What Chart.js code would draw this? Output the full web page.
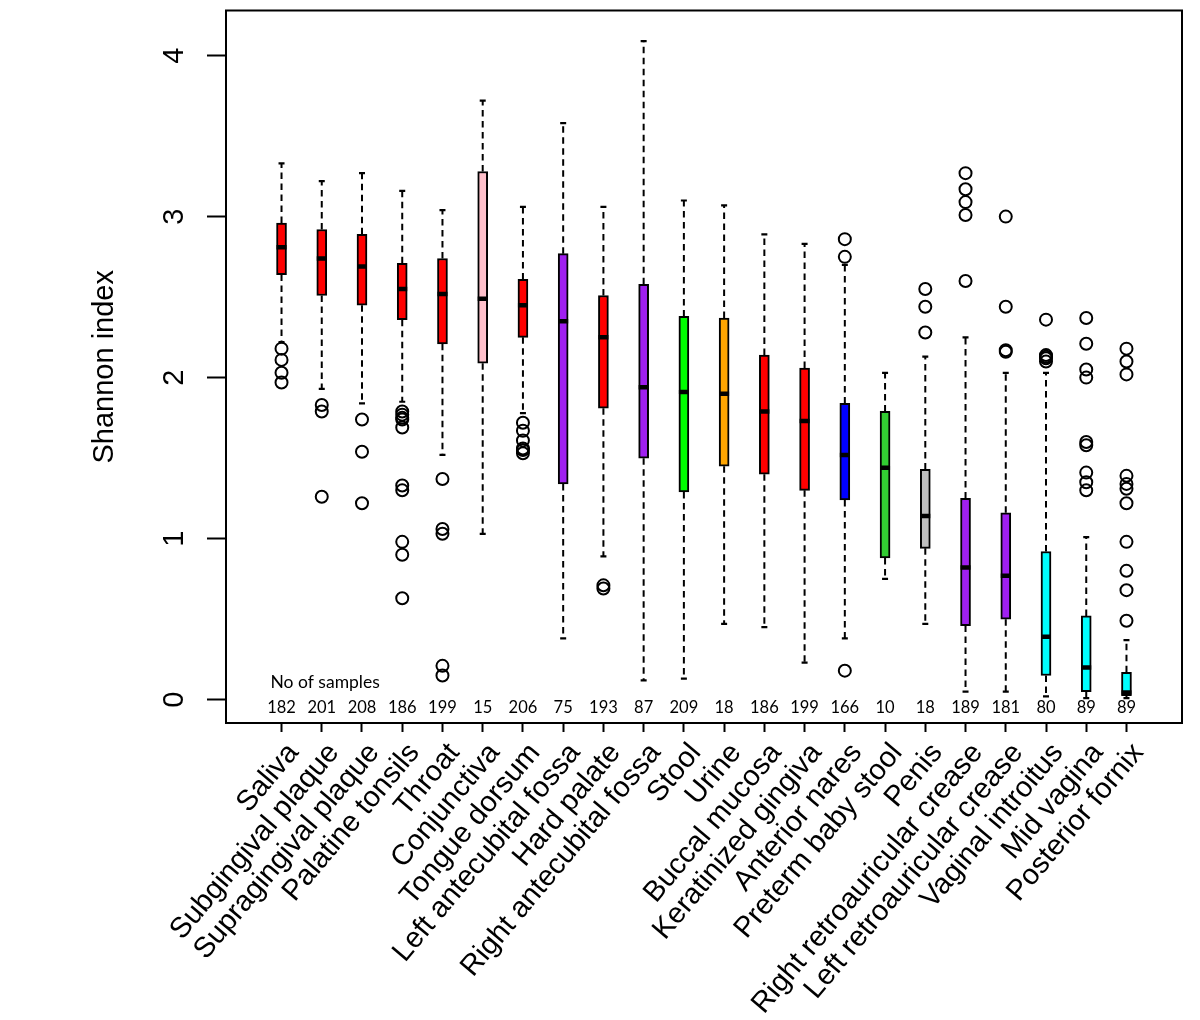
<!DOCTYPE html>
<html>
<head>
<meta charset="utf-8">
<script src="https://cdn.jsdelivr.net/npm/chart.js@4.4.0/dist/chart.umd.min.js"></script>
<style>
    html, body { margin: 0; padding: 0; background: #fff; }
    canvas { display: block; }
</style>
</head>
<body>
<canvas id="shannonChart" width="1200" height="1020"></canvas>
<script>
// Shannon diversity per body site, drawn as boxplots.
const categories = [
    'Saliva', 'Subgingival plaque', 'Supragingival plaque', 'Palatine tonsils', 'Throat',
    'Conjunctiva', 'Tongue dorsum', 'Left antecubital fossa', 'Hard palate',
    'Right antecubital fossa', 'Stool', 'Urine', 'Buccal mucosa', 'Keratinized gingiva',
    'Anterior nares', 'Preterm baby stool', 'Penis', 'Right retroauricular crease',
    'Left retroauricular crease', 'Vaginal introitus', 'Mid vagina', 'Posterior fornix',
];
const sampleCounts = [182, 201, 208, 186, 199, 15, 206, 75, 193, 87, 209, 18, 186, 199, 166, 10, 18, 189, 181, 80, 89, 89];

const lowerWhisker = [2.22, 1.93, 1.84, 1.85, 1.52, 1.03, 1.78, 0.38, 0.89, 0.12, 0.13, 0.47, 0.45, 0.23, 0.38, 0.75, 0.47, 0.05, 0.05, 0.02, 0.01, 0.01];
const lowerQuartile = [2.64, 2.51, 2.45, 2.36, 2.21, 2.09, 2.25, 1.34, 1.81, 1.50, 1.29, 1.45, 1.40, 1.30, 1.24, 0.88, 0.94, 0.46, 0.50, 0.15, 0.05, 0.025];
const medians = [2.81, 2.74, 2.69, 2.55, 2.52, 2.49, 2.45, 2.35, 2.25, 1.94, 1.91, 1.90, 1.79, 1.73, 1.52, 1.44, 1.14, 0.82, 0.77, 0.39, 0.20, 0.045];
const upperQuartile = [2.96, 2.92, 2.89, 2.71, 2.74, 3.28, 2.61, 2.77, 2.51, 2.58, 2.38, 2.37, 2.14, 2.06, 1.84, 1.79, 1.43, 1.25, 1.16, 0.92, 0.52, 0.17];
const upperWhisker = [3.33, 3.22, 3.27, 3.16, 3.04, 3.72, 3.06, 3.58, 3.06, 4.09, 3.10, 3.07, 2.89, 2.83, 2.70, 2.03, 2.13, 2.25, 2.03, 2.03, 1.01, 0.37];

const outliers = [
    [2.18, 2.11, 2.03, 1.97],
    [1.83, 1.79, 1.26],
    [1.74, 1.54, 1.22],
    [1.79, 1.77, 1.75, 1.74, 1.69, 1.33, 1.30, 0.98, 0.90, 0.63],
    [1.37, 1.06, 1.03, 0.21, 0.15],
    [],
    [1.72, 1.67, 1.61, 1.56, 1.55, 1.53],
    [],
    [0.71, 0.69],
    [],
    [],
    [],
    [],
    [],
    [2.86, 2.75, 0.18],
    [],
    [2.55, 2.44, 2.28],
    [3.27, 3.17, 3.09, 3.01, 2.60],
    [3.00, 2.44, 2.17, 2.16],
    [2.36, 2.14, 2.13, 2.12, 2.10],
    [2.37, 2.21, 2.05, 2.00, 1.60, 1.58, 1.41, 1.35, 1.30],
    [2.18, 2.10, 2.02, 1.39, 1.34, 1.31, 1.22, 0.98, 0.80, 0.68, 0.49],
];

const boxColors = [
    '#ff0000', '#ff0000', '#ff0000', '#ff0000', '#ff0000', '#ffc0cb', '#ff0000',
    '#a020f0', '#ff0000', '#a020f0', '#00ff00', '#ffa500', '#ff0000', '#ff0000',
    '#0000ff', '#32cd32', '#bebebe', '#a020f0', '#a020f0', '#00ffff', '#00ffff', '#00ffff',
];

const yTickValues = [0, 1, 2, 3, 4];
const yTitle = 'Shannon index';
const samplesTitle = 'No of samples';

const labelFont = '29px "Liberation Sans", Arial, sans-serif';
const countFont = '16.5px Lato, "Open Sans", sans-serif';
const samplesTitleFont = '17.5px Lato, "Open Sans", sans-serif';

const boxData = categories.map((name, i) => ({ x: i + 1, y: [lowerQuartile[i], upperQuartile[i]] }));
const outlierData = [];
outliers.forEach((values, i) => {
    values.forEach(v => outlierData.push({ x: i + 1, y: v }));
});

const boxplotParts = {
    id: 'boxplotParts',
    beforeDatasetsDraw(chart) {
        const { ctx, scales: { x, y } } = chart;
        const boxes = chart.getDatasetMeta(0).data;
        ctx.save();
        ctx.strokeStyle = '#000';
        categories.forEach((name, i) => {
            const px = x.getPixelForValue(i + 1);
            const capHalf = boxes[i].width / 4 + 0.5;
            ctx.lineWidth = 2;
            ctx.setLineDash([6.5, 4.5]);
            ctx.beginPath();
            ctx.moveTo(px, y.getPixelForValue(upperQuartile[i]));
            ctx.lineTo(px, y.getPixelForValue(upperWhisker[i]));
            ctx.moveTo(px, y.getPixelForValue(lowerQuartile[i]));
            ctx.lineTo(px, y.getPixelForValue(lowerWhisker[i]));
            ctx.stroke();
            ctx.setLineDash([]);
            ctx.lineWidth = 2.2;
            ctx.beginPath();
            [upperWhisker[i], lowerWhisker[i]].forEach(v => {
                const py = y.getPixelForValue(v);
                ctx.moveTo(px - capHalf, py);
                ctx.lineTo(px + capHalf, py);
            });
            ctx.stroke();
        });
        ctx.restore();
    },
    afterDatasetsDraw(chart) {
        const { ctx, scales: { y } } = chart;
        const boxes = chart.getDatasetMeta(0).data;
        ctx.save();
        ctx.strokeStyle = '#000';
        ctx.lineWidth = 4.5;
        ctx.beginPath();
        boxes.forEach((bar, i) => {
            const py = y.getPixelForValue(medians[i]);
            ctx.moveTo(bar.x - bar.width / 2, py);
            ctx.lineTo(bar.x + bar.width / 2, py);
        });
        ctx.stroke();
        ctx.restore();
    },
    afterDraw(chart) {
        const { ctx, chartArea: area, scales: { x, y } } = chart;
        ctx.save();

        // frame
        ctx.strokeStyle = '#000';
        ctx.lineWidth = 2;
        ctx.strokeRect(area.left, area.top, area.right - area.left, area.bottom - area.top);

        ctx.fillStyle = '#000';
        ctx.font = labelFont;

        // y tick labels, rotated like R's default
        ctx.textAlign = 'center';
        ctx.textBaseline = 'alphabetic';
        yTickValues.forEach(v => {
            ctx.save();
            ctx.translate(183, y.getPixelForValue(v));
            ctx.rotate(-Math.PI / 2);
            ctx.fillText(String(v), 0, 0);
            ctx.restore();
        });

        ctx.save();
        ctx.translate(113, (area.top + area.bottom) / 2);
        ctx.rotate(-Math.PI / 2);
        ctx.fillText(yTitle, 0, 0);
        ctx.restore();

        // slanted category labels
        ctx.textAlign = 'right';
        categories.forEach((name, i) => {
            ctx.save();
            ctx.translate(x.getPixelForValue(i + 1) + 18, 753);
            ctx.rotate(-50 * Math.PI / 180);
            ctx.fillText(name, 0, 0);
            ctx.restore();
        });

        // sample counts along the bottom
        ctx.font = samplesTitleFont;
        ctx.textAlign = 'left';
        ctx.fillText(samplesTitle, x.getPixelForValue(1) - 11, area.bottom - 35);
        ctx.font = countFont;
        ctx.textAlign = 'center';
        sampleCounts.forEach((n, i) => {
            ctx.fillText(String(n), x.getPixelForValue(i + 1), area.bottom - 10);
        });

        ctx.restore();
    },
};

new Chart(document.getElementById('shannonChart'), {
    type: 'bar',
    data: {
        datasets: [
            {
                type: 'bar',
                data: boxData,
                backgroundColor: boxColors,
                borderColor: '#000',
                borderWidth: 2,
                borderSkipped: false,
                barThickness: 10,
            },
            {
                type: 'scatter',
                data: outlierData,
                pointStyle: 'circle',
                pointRadius: 6,
                pointBorderWidth: 2,
                pointBorderColor: '#000',
                pointBackgroundColor: 'rgba(0,0,0,0)',
            },
        ],
    },
    options: {
        responsive: false,
        animation: false,
        events: [],
        layout: { padding: { top: 10.5, right: 18, left: 0, bottom: 0 } },
        plugins: {
            legend: { display: false },
            tooltip: { enabled: false },
        },
        scales: {
            x: {
                type: 'linear',
                min: -0.38,
                max: 23.38,
                offset: false,
                afterBuildTicks(scale) {
                    scale.ticks = categories.map((name, i) => ({ value: i + 1 }));
                },
                afterFit(scale) { scale.height = 297; },
                ticks: { display: false, autoSkip: false },
                border: { display: false },
                grid: {
                    offset: false,
                    drawOnChartArea: false,
                    tickLength: 9,
                    tickColor: '#000',
                    tickWidth: 2,
                },
            },
            y: {
                type: 'linear',
                min: -0.145,
                max: 4.28,
                afterBuildTicks(scale) {
                    scale.ticks = yTickValues.map(v => ({ value: v }));
                },
                afterFit(scale) { scale.width = 226; },
                ticks: { display: false },
                border: { display: false },
                grid: {
                    drawOnChartArea: false,
                    tickLength: 19,
                    tickColor: '#000',
                    tickWidth: 2,
                },
            },
        },
    },
    plugins: [boxplotParts],
});
</script>
</body>
</html>
